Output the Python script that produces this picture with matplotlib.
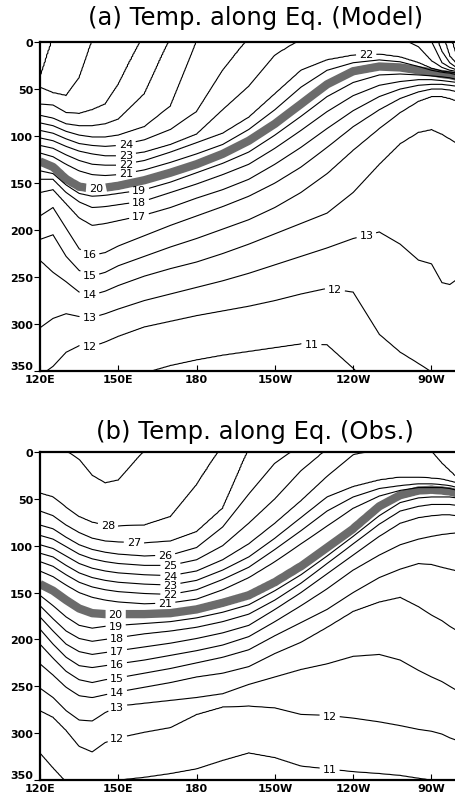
# Equatorial temperature sections (model vs obs), isotherm depths
import matplotlib
matplotlib.use("Agg")
import matplotlib.pyplot as plt
import numpy as np

N = None

lons = [120, 125, 130, 135, 140, 145, 150, 160, 170, 180, 190, 200, 210,
        220, 230, 240, 250, 258, 265, 270, 274, 277, 280]
levels = list(range(29, 10, -1))  # 29 ... 11 degC

# (a) model: surface temperature and isotherm depths (m), one row per level 29..11
sst_model = [29.3, 28.7, 28.6, 28.3, 27.9, 27.6, 27.3, 26.4, 25.7, 24.95, 24.3, 23.7,
             23.1, 22.8, 22.6, 22.5, 22.5, 22.7, 23.3, 23.95, 25.3, 26.5, 27.5]
depth_model = [
    [38, N, N, N, N, N, N, N, N, N, N, N, N, N, N, N, N, N, N, N, N, N, N],
    [48, 54, 57, 38, N, N, N, N, N, N, N, N, N, N, N, N, N, N, N, N, N, N, N],
    [66, 67, 75, 76, 72, 66, 45, N, N, N, N, N, N, N, N, N, N, N, N, N, N, N, 18],
    [78, 81, 87, 89, 89, 87, 82, 55, N, N, N, N, N, N, N, N, N, N, N, N, N, 15, 24],
    [86, 89, 95, 99, 101, 101, 99, 90, 68, N, N, N, N, N, N, N, N, N, N, N, 10, 22, 28],
    [94, 97, 103, 108, 110, 111, 110, 104, 93, 74, 30, N, N, N, N, N, N, N, N, N, 22, 27, 30],
    [102, 105, 111, 116, 119, 121, 121, 117, 109, 98, 72, 47, 14, N, N, N, N, N, 5, 20, 27, 30, 31.5],
    [110, 113, 120, 126, 130, 131, 131, 126, 117, 107, 97, 80, 55, 30, 19, 14, 13, 16, 22, 28, 31, 32, 33],
    [118, 122, 130, 137, 141, 142, 141, 136, 128, 119, 109, 93, 72, 48, 30, 22, 19, 21, 26, 30, 32, 33, 35],
    [127, 133, 146, 154, 156, 155, 153, 147, 139, 130, 119, 105, 87, 66, 45, 31, 26, 27, 30, 32, 34, 35, 37],
    [137, 140, 152, 161, 164, 163, 161, 157, 149, 139, 129, 117, 99, 79, 58, 43, 35, 34, 35, 36, 37, 38, 40],
    [146, 146, 160, 170, 176, 175, 173, 169, 160, 151, 141, 130, 113, 94, 74, 57, 46, 42, 40, 40, 41, 42, 43],
    [160, 157, 172, 187, 195, 193, 190, 184, 176, 166, 157, 146, 130, 112, 92, 73, 58, 50, 46, 45, 45, 46, 47],
    [185, 176, 198, 220, 227, 224, 217, 206, 195, 185, 175, 164, 150, 133, 112, 90, 72, 60, 53, 50, 50, 51, 53],
    [210, 205, 228, 243, 249, 245, 238, 228, 218, 209, 199, 189, 176, 160, 140, 115, 92, 75, 63, 58, 58, 60, 63],
    [232, 245, 255, 266, 269, 265, 259, 249, 241, 234, 225, 215, 204, 193, 182, 160, 130, 108, 96, 93, 98, 103, 108],
    [304, 294, 289, 292, 293, 289, 284, 275, 268, 261, 254, 246, 237, 228, 219, 209, 202, 215, 232, 236, 256, 258, 252],
    [355, 345, 330, 323, 324, 319, 313, 303, 297, 291, 286, 281, 275, 268, 262, 266, 311, 330, 342, 351, 358, 362, 365],
    [400, 395, 385, 378, 372, 367, 362, 352, 344, 338, 333, 329, 325, 321, 322, 347, 375, 390, 400, 405, 410, 410, 410],
]

# (b) observations
sst_obs = [28.7, 28.8, 28.9, 29.05, 29.2, 29.3, 29.25, 28.9, 28.6, 28.15, 27.5, 26.8,
           26.15, 25.5, 24.8, 24.05, 23.8, 23.6, 23.7, 23.95, 24.25, 24.45, 24.6]
depth_obs = [
    [N, N, N, 8, 25, 33, 30, N, N, N, N, N, N, N, N, N, N, N, N, N, N, N, N],
    [44, 48, 59, 69, 75, 78, 79, 78, 69, 35, N, N, N, N, N, N, N, N, N, N, N, N, N],
    [63, 68, 78, 86, 92, 95, 96, 97, 95, 85, 60, N, N, N, N, N, N, N, N, N, N, N, N],
    [78, 82, 91, 99, 104, 107, 109, 111, 110, 102, 80, 45, 12, N, N, N, N, N, N, N, N, N, N],
    [89, 93, 101, 109, 114, 117, 119, 121, 121, 115, 100, 76, 50, 20, N, N, N, N, N, N, N, N, N],
    [99, 103, 111, 119, 124, 127, 129, 131, 132, 127, 115, 98, 76, 52, 26, 3, N, N, N, N, 12, 20, 28],
    [108, 112, 121, 129, 134, 137, 139, 141, 142, 137, 126, 112, 92, 70, 48, 37, 30, 27, 27, 28, 29, 31, 33],
    [117, 122, 131, 139, 144, 147, 149, 151, 152, 147, 136, 123, 104, 84, 63, 48, 39, 36, 34, 34, 35, 36, 38],
    [127, 133, 142, 150, 155, 158, 160, 162, 161, 157, 147, 134, 117, 98, 79, 60, 47, 41, 38, 38, 38, 39, 41],
    [141, 148, 158, 167, 172, 173, 173, 173, 172, 168, 161, 153, 139, 122, 102, 82, 58, 46, 41, 40, 41, 42, 44],
    [153, 164, 176, 185, 188, 186, 185, 183, 181, 177, 171, 163, 148, 131, 111, 90, 68, 54, 49, 48, 48, 48, 49],
    [164, 178, 191, 199, 202, 200, 198, 194, 191, 187, 181, 173, 158, 140, 119, 98, 77, 63, 58, 56, 56, 56, 57],
    [176, 191, 205, 213, 216, 214, 212, 208, 204, 199, 193, 185, 168, 150, 130, 110, 90, 76, 70, 68, 67, 67, 68],
    [189, 205, 219, 228, 230, 228, 226, 222, 217, 212, 206, 197, 181, 164, 146, 126, 110, 99, 93, 90, 88, 87, 86],
    [205, 220, 234, 243, 246, 243, 241, 236, 231, 225, 219, 211, 196, 182, 168, 150, 134, 125, 119, 120, 123, 125, 127],
    [226, 238, 251, 260, 262, 259, 256, 251, 246, 240, 236, 229, 215, 203, 187, 170, 160, 155, 165, 174, 180, 186, 191],
    [252, 262, 276, 286, 287, 278, 271, 268, 265, 262, 258, 248, 240, 232, 226, 218, 216, 222, 233, 240, 245, 250, 255],
    [276, 283, 297, 314, 320, 310, 305, 299, 294, 280, 272, 271, 273, 280, 281, 284, 288, 292, 296, 298, 301, 305, 308],
    [321, 337, 352, 365, 370, 358, 350, 347, 343, 338, 329, 321, 326, 335, 338, 341, 343, 345, 348, 350, 352, 353, 354],
]

xticks = [120, 150, 180, 210, 240, 270]
xticklabels = ["120E", "150E", "180", "150W", "120W", "90W"]


def build_field(sst, table):
    # isotherm depth per station; levels above the surface get a negative depth
    sst = np.array(sst, float)
    D = np.zeros((len(levels), len(lons)))
    for i, (lev, row) in enumerate(zip(levels, table)):
        for j, d in enumerate(row):
            D[i, j] = d if d is not None else -(lev - sst[j]) * 15.0
    xf = np.arange(120, 280.01, 0.5)
    z = np.arange(0, 353, 1.0)
    T = np.zeros((len(z), len(xf)))
    for k, x in enumerate(xf):
        d = np.array([np.interp(x, lons, D[i]) for i in range(len(levels))])
        s = np.interp(x, lons, sst)
        keep = d > 0
        zp = list(d[keep])
        tp = [levels[i] for i in range(len(levels)) if keep[i]]
        if tp:
            s = min(max(s, tp[0] + 0.02), tp[0] + 0.98)
        T[:, k] = np.interp(z, [0.0] + zp + [450.0], [s] + tp + [10.0])
    return xf, z, T


def draw(ax, sst, table, band_pos, label_pos):
    xf, z, T = build_field(sst, table)
    band = ax.contour(xf, z, T, levels=[20], colors="0.42", linewidths=6)
    txt = ax.clabel(band, fmt="%d", manual=band_pos, colors="k", fontsize=8, inline_spacing=3)
    lev = [l for l in range(11, 30) if l != 20]
    cs = ax.contour(xf, z, T, levels=lev, colors="k", linewidths=0.8)
    txt += ax.clabel(cs, fmt="%d", manual=label_pos, fontsize=8, inline_spacing=3)
    for t in txt:
        t.set_rotation(0)
    ax.set_xlim(120, 279.4)
    ax.set_ylim(350, 0)
    ax.set_xticks(xticks)
    ax.set_xticklabels(xticklabels)
    ax.set_yticks(range(0, 351, 50))
    ax.tick_params(axis="x", direction="in", length=4, labelsize=8, pad=2)
    ax.tick_params(axis="y", direction="out", length=4, labelsize=8, pad=1)
    for t in ax.get_xticklabels() + ax.get_yticklabels():
        t.set_fontweight("bold")
    # the bottom depth label sits just above its tick, clear of "120E"
    ax.get_yticklabels()[-1].set_verticalalignment("bottom")
    for s in ["top", "left", "bottom"]:
        ax.spines[s].set_linewidth(1.6)
    ax.spines["right"].set_visible(False)


fig = plt.figure(figsize=(4.56, 8.03), dpi=100)
ax1 = fig.add_axes([0.0877, 0.5367, 0.9123, 0.4097])
ax2 = fig.add_axes([0.0877, 0.0274, 0.9123, 0.4085])

draw(ax1, sst_model, depth_model, [(141.5, 156)],
     [(153, 110), (153, 121), (153, 130), (153, 140), (158, 158), (158, 170),
      (158, 186), (139, 226), (139, 248), (139, 268), (139, 292), (139, 324),
      (245, 205), (233, 263), (224, 321), (245, 14)])
draw(ax2, sst_obs, depth_obs, [(149, 173)],
     [(146, 79), (156, 96), (168, 110), (170, 121), (170, 132), (170, 142),
      (170, 152), (168, 161), (149, 185), (149.5, 198), (149.5, 212), (149.5, 226),
      (149.5, 241), (149.5, 256), (149.5, 271), (149.5, 305), (231, 281), (231, 338)])

fig.text(0.56, 0.978, "(a) Temp. along Eq. (Model)", ha="center", va="center", fontsize=17.5)
fig.text(0.56, 0.462, "(b) Temp. along Eq. (Obs.)", ha="center", va="center", fontsize=17.5)

fig.savefig("out.png", dpi=100)
